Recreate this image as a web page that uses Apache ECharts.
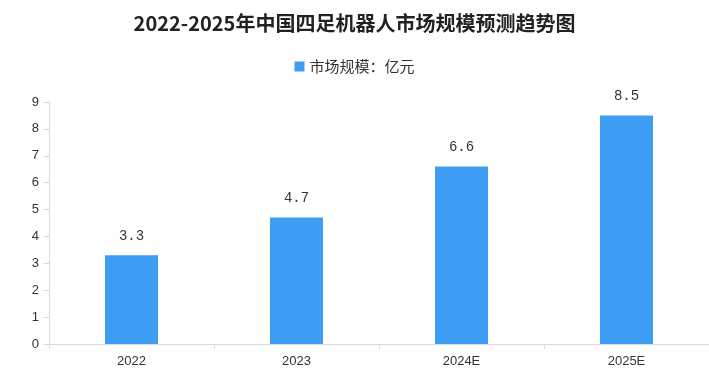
<!DOCTYPE html>
<html><head><meta charset="utf-8">
<script src="https://cdn.jsdelivr.net/npm/echarts@6/dist/echarts.min.js"></script>
<style>html,body{margin:0;padding:0;background:#fff}#c{width:709px;height:386px}</style>
</head><body><div id="c"></div>
<script>
const categories = ['2022', '2023', '2024E', '2025E'];
const values = [3.3, 4.7, 6.6, 8.5];
const seriesName = '市场规模：亿元';
const titleText = '2022-2025年中国四足机器人市场规模预测趋势图';

const chart = echarts.init(document.getElementById('c'));
chart.setOption({
  animation: false,
  title: {
    text: titleText, left: 'center', top: 8,
    textStyle: { fontFamily: 'Noto Sans CJK SC', fontSize: 20, fontWeight: 'bold', color: '#222' }
  },
  legend: {
    data: [seriesName], top: 54, left: 'center',
    itemWidth: 10, itemHeight: 10, icon: 'rect', itemGap: 8,
    textStyle: { fontFamily: 'Noto Sans CJK SC', fontSize: 15, color: '#333' }
  },
  grid: { left: 49, right: 0, top: 102, bottom: 42, containLabel: false },
  xAxis: {
    type: 'category', data: categories,
    axisLine: { lineStyle: { color: '#d9d9d9' } },
    axisTick: { show: true, lineStyle: { color: '#d9d9d9' } },
    axisLabel: { fontFamily: 'Liberation Sans', fontSize: 13, color: '#333', margin: 11 }
  },
  yAxis: {
    type: 'value', min: 0, max: 9, interval: 1,
    axisLine: { show: true, lineStyle: { color: '#d9d9d9' } },
    axisTick: { show: true, lineStyle: { color: '#d9d9d9' } },
    splitLine: { show: false },
    axisLabel: { fontFamily: 'Liberation Sans', fontSize: 13, color: '#333', margin: 10 }
  },
  series: [{
    name: seriesName, type: 'bar', data: values, barWidth: 53,
    itemStyle: { color: '#3d9df3' },
    label: { show: true, position: 'top', distance: 12, fontFamily: 'Liberation Mono', fontSize: 14, color: '#333' }
  }]
});
</script></body></html>
